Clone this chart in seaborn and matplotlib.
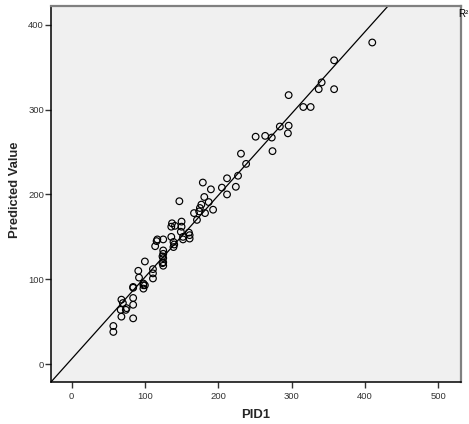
import numpy as np
import pandas as pd
import matplotlib
matplotlib.use("Agg")
import matplotlib.pyplot as plt
import seaborn as sns

pid1 = [410, 358, 341, 337, 358, 296, 316, 326, 284, 296, 295, 251, 264, 273, 274,
        231, 238, 227, 212, 179, 190, 205, 224, 212, 181, 147, 177, 175, 187, 193,
        167, 174, 182, 171, 150, 137, 141, 150, 136, 149, 161, 160, 117, 125, 136,
        152, 161, 139, 152, 114, 139, 125, 125, 125, 125, 125, 124, 124, 100, 111,
        91, 111, 111, 92, 98, 98, 98, 100, 84, 84, 68, 70, 84, 84, 75, 67, 74,
        68, 84, 57, 57, 116, 140]
predicted = [379, 358, 332, 324, 324, 317, 303, 303, 280, 281, 272, 268, 269, 267, 251,
             248, 236, 222, 219, 214, 206, 208, 209, 200, 197, 192, 188, 184, 191, 182,
             178, 180, 178, 170, 168, 166, 163, 162, 162, 156, 152, 155, 147, 147, 150,
             150, 148, 144, 147, 139, 138, 134, 130, 125, 120, 116, 119, 127, 121, 112,
             110, 107, 101, 102, 95, 89, 93, 93, 91, 90, 76, 72, 70, 78, 66, 64, 64,
             56, 54, 45, 38, 145, 141]

# Fit line (linear, as shown in the chart)
fit_slope = 0.964
fit_intercept = 6.0
fit_label = "R\u00b2"

x_ticks = [0, 100, 200, 300, 400, 500]
y_ticks = [0, 100, 200, 300, 400]
x_label = "PID1"
y_label = "Predicted Value"

df = pd.DataFrame({"PID1": pid1, "Predicted Value": predicted})

sns.set_style("white")
plt.rcParams["font.family"] = ["Liberation Sans", "DejaVu Sans"]

fig = plt.figure(figsize=(4.69, 4.24), dpi=100)
ax = fig.add_axes([51 / 469, 1 - 382 / 424, 410 / 469, 376 / 424])
ax.set_facecolor("#f0f0f0")

sns.scatterplot(data=df, x="PID1", y="Predicted Value", ax=ax, marker="o",
                facecolors="none", edgecolor="black", linewidth=0.85, s=23,
                zorder=3)
ax.axline((0, fit_intercept), slope=fit_slope, color="black", lw=0.9, zorder=2)

ax.set_xlim(-28, 531)
ax.set_ylim(-21, 422)
ax.set_xticks(x_ticks)
ax.set_yticks(y_ticks)
ax.set_xticklabels([str(v) for v in x_ticks])
ax.set_yticklabels([str(v) for v in y_ticks])
ax.tick_params(axis="both", direction="out", length=4.5, width=1.0,
               color="#333333", labelsize=6.8, labelcolor="#333333",
               left=True, bottom=True, top=False, right=False)
ax.tick_params(axis="y", pad=0.5)
ax.tick_params(axis="x", pad=2.5)

for side in ["left", "bottom"]:
    ax.spines[side].set_color("black")
    ax.spines[side].set_linewidth(1.1)
for side in ["top", "right"]:
    ax.spines[side].set_color("#808080")
    ax.spines[side].set_linewidth(1.6)
    ax.spines[side].set_visible(True)

ax.set_xlabel(x_label, fontsize=9.4, fontweight="bold")
ax.set_ylabel(y_label, fontsize=9.4, fontweight="bold")
ax.xaxis.set_label_coords((256 - 51) / 410, (382 - 415) / 376)
ax.xaxis.label.set_va("center")
ax.yaxis.set_label_coords((15 - 51) / 410, (382 - 190) / 376)
ax.yaxis.label.set_va("center")

fig.text(468 / 469, 1 - 14 / 424, fit_label, fontsize=7.0, ha="right", va="center",
         color="black")

fig.savefig("out.png", dpi=100)
